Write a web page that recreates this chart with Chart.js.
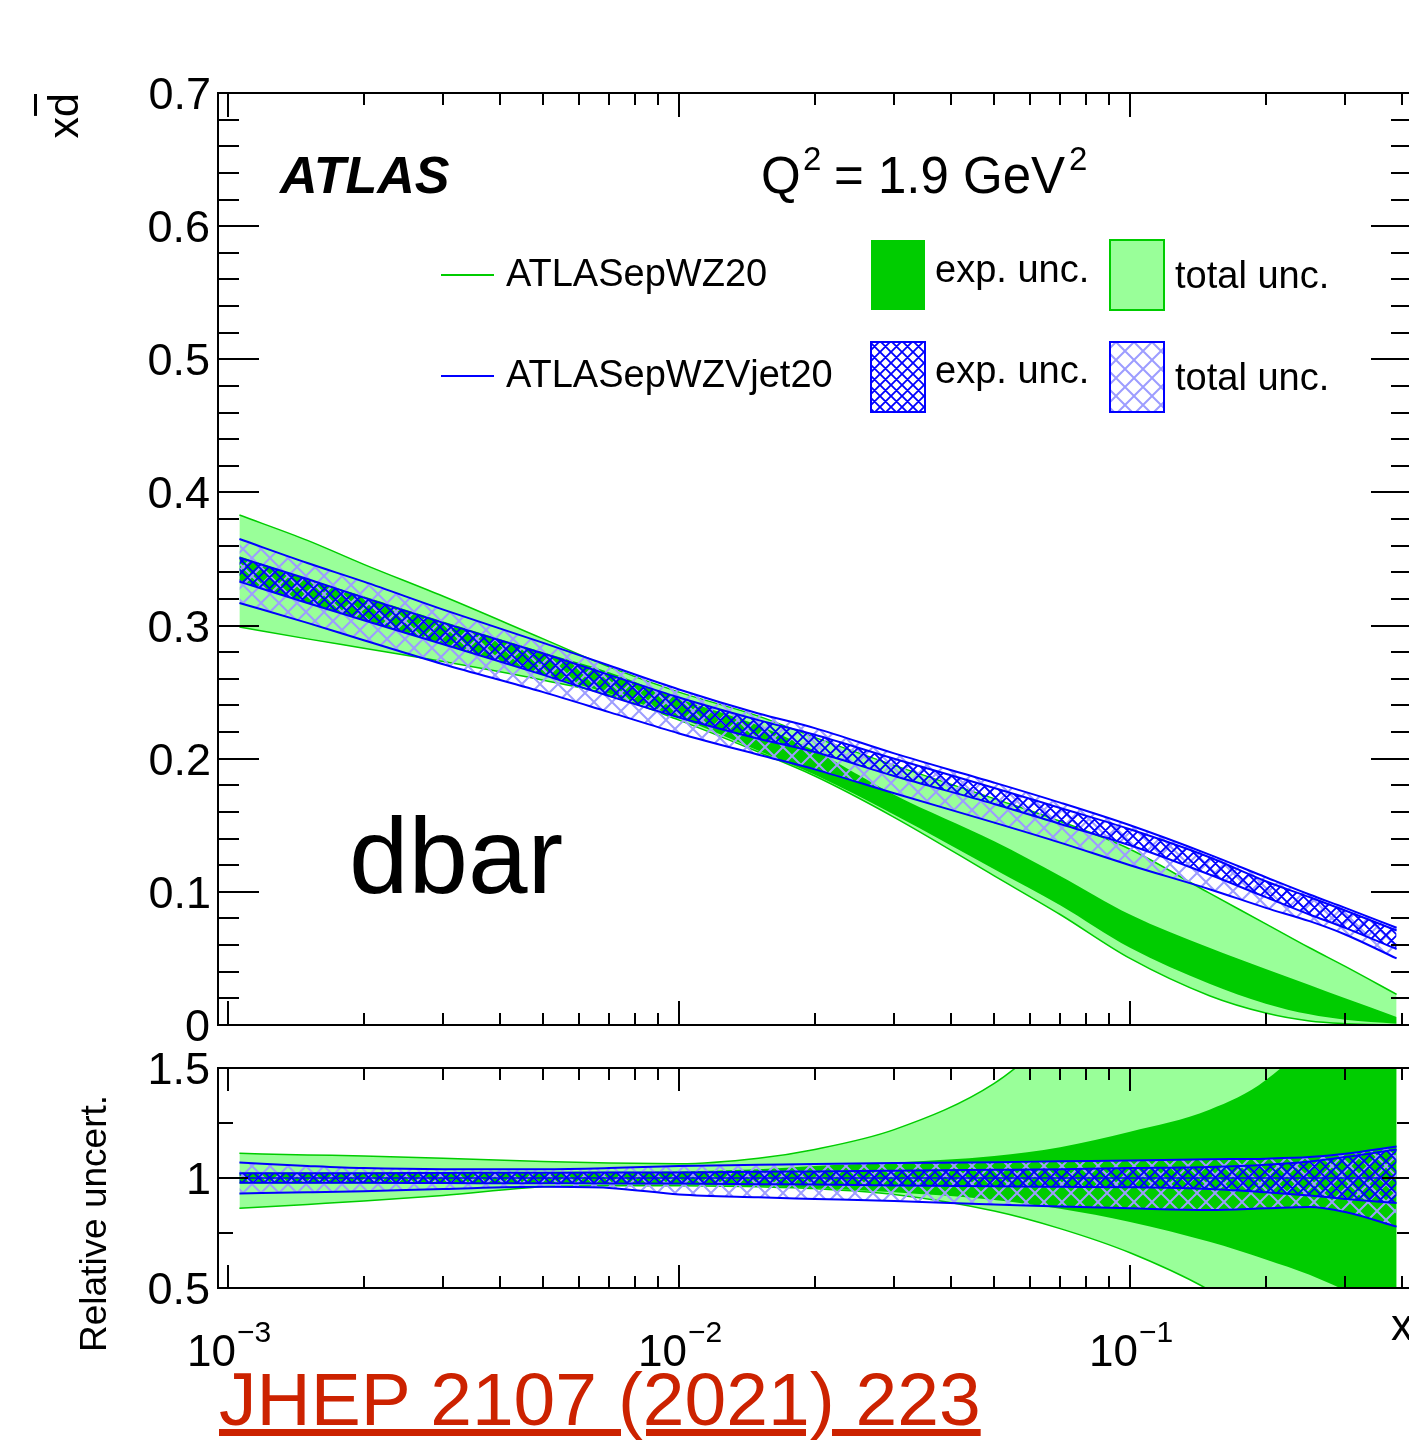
<!DOCTYPE html>
<html>
<head>
<meta charset="utf-8">
<title>dbar PDF at Q2 = 1.9 GeV2</title>
<script src="https://cdn.jsdelivr.net/npm/chart.js@4.4.1/dist/chart.umd.min.js"></script>
<style>
  html, body { margin: 0; padding: 0; background: #fff; overflow: hidden; }
  body { width: 1409px; height: 1440px; position: relative; }
  canvas { position: absolute; left: 0; }
  #main { top: 0; }
  #ratio { top: 1040px; }
  .ref {
    position: absolute; left: 219px; top: 1362px;
    font: 75px "Liberation Sans", Arial, sans-serif; line-height: 74px;
    color: #cc2200; text-decoration: underline; white-space: nowrap;
  }
</style>
</head>
<body>
<canvas id="main" width="1420" height="1060"></canvas>
<canvas id="ratio" width="1420" height="360"></canvas>
<a class="ref" href="#">JHEP 2107 (2021) 223</a>
<script>
// x values where the bands are sampled
const xGrid = [0.00106, 0.0015, 0.002, 0.003, 0.005, 0.007, 0.01, 0.015, 0.02, 0.03, 0.05, 0.07, 0.1, 0.15, 0.2, 0.25, 0.3, 0.39];

// ATLASepWZ20 : x*dbar
const wzTotHi = [0.383, 0.364, 0.346, 0.322, 0.290, 0.269, 0.250, 0.232, 0.216, 0.195, 0.170, 0.153, 0.132, 0.099, 0.076, 0.058, 0.044, 0.023];
const wzTotLo = [0.299, 0.290, 0.283, 0.273, 0.259, 0.248, 0.229, 0.205, 0.187, 0.156, 0.112, 0.083, 0.050, 0.022, 0.009, 0.003, 0.001, 0.000];
const wzExpHi = [0.352, 0.335, 0.322, 0.303, 0.280, 0.265, 0.245, 0.225, 0.206, 0.173, 0.138, 0.112, 0.083, 0.058, 0.042, 0.030, 0.020, 0.006];
const wzExpLo = [0.334, 0.317, 0.304, 0.286, 0.263, 0.249, 0.231, 0.206, 0.188, 0.158, 0.117, 0.090, 0.058, 0.031, 0.016, 0.008, 0.004, 0.001];

// ATLASepWZVjet20 : x*dbar
const vjTotHi = [0.365, 0.347, 0.333, 0.312, 0.287, 0.270, 0.252, 0.234, 0.223, 0.204, 0.182, 0.167, 0.150, 0.128, 0.111, 0.098, 0.088, 0.073];
const vjExpHi = [0.351, 0.335, 0.321, 0.302, 0.279, 0.263, 0.246, 0.229, 0.218, 0.200, 0.178, 0.163, 0.147, 0.126, 0.108, 0.096, 0.086, 0.071];
const vjExpLo = [0.333, 0.317, 0.304, 0.286, 0.263, 0.247, 0.231, 0.215, 0.205, 0.187, 0.166, 0.151, 0.135, 0.113, 0.096, 0.083, 0.073, 0.057];
const vjTotLo = [0.317, 0.302, 0.289, 0.271, 0.250, 0.235, 0.219, 0.203, 0.192, 0.174, 0.152, 0.137, 0.120, 0.102, 0.088, 0.078, 0.068, 0.050];

// relative uncertainties (lower panel)
const wzTotHiRel = [1.112, 1.105, 1.100, 1.090, 1.075, 1.068, 1.065, 1.090, 1.130, 1.220, 1.430, 1.680, 2.000, 2.400, 2.800, 3.200, 3.500, 4.000];
const wzTotLoRel = [0.862, 0.880, 0.895, 0.920, 0.960, 0.965, 0.965, 0.960, 0.952, 0.925, 0.850, 0.770, 0.660, 0.490, 0.320, 0.180, 0.080, 0.000];
const wzExpHiRel = [1.025, 1.025, 1.025, 1.025, 1.027, 1.028, 1.030, 1.040, 1.055, 1.070, 1.100, 1.140, 1.210, 1.310, 1.445, 1.650, 2.000, 2.500];
const wzExpLoRel = [0.975, 0.975, 0.975, 0.975, 0.973, 0.972, 0.970, 0.963, 0.955, 0.935, 0.900, 0.860, 0.800, 0.710, 0.630, 0.560, 0.490, 0.400];
const vjTotHiRel = [1.070, 1.055, 1.045, 1.040, 1.040, 1.045, 1.055, 1.060, 1.064, 1.068, 1.072, 1.076, 1.080, 1.085, 1.088, 1.095, 1.110, 1.143];
const vjTotLoRel = [0.930, 0.935, 0.940, 0.950, 0.960, 0.955, 0.925, 0.912, 0.905, 0.895, 0.880, 0.870, 0.862, 0.855, 0.862, 0.868, 0.845, 0.779];
const vjExpHiRel = [1.022, 1.022, 1.022, 1.023, 1.024, 1.025, 1.025, 1.028, 1.030, 1.033, 1.037, 1.040, 1.045, 1.050, 1.060, 1.075, 1.095, 1.130];
const vjExpLoRel = [0.978, 0.978, 0.978, 0.977, 0.976, 0.975, 0.975, 0.972, 0.970, 0.966, 0.962, 0.960, 0.958, 0.950, 0.935, 0.920, 0.905, 0.886];
const vjCentralRel = [1, 1, 1, 1, 1, 1, 1, 1, 1, 1, 1, 1, 1, 1, 1, 1, 1, 1];

// axis labels
const yLabelsMain = ['0', '0.1', '0.2', '0.3', '0.4', '0.5', '0.6', '0.7'];
const yLabelsRatio = ['0.5', '1', '1.5'];
const xDecades = [-3, -2, -1];

const X_MIN = 9.502e-4;
const X_MAX = 0.4219;

const GREEN = '#00cc00';
const LIGHT_GREEN = '#99ff99';
const BLUE = '#0000ff';
const LIGHT_BLUE = '#9d9dff';
const FONT = '"Liberation Sans", Arial, sans-serif';

function crossHatch(color, step, width) {
  const tile = document.createElement('canvas');
  tile.width = tile.height = step;
  const c = tile.getContext('2d');
  c.strokeStyle = color;
  c.lineWidth = width;
  c.beginPath();
  for (const k of [-step, 0, step]) {
    c.moveTo(k, 0); c.lineTo(k + step, step);
    c.moveTo(k, step); c.lineTo(k + step, 0);
  }
  c.stroke();
  return c.createPattern(tile, 'repeat');
}

const hatchDense = crossHatch(BLUE, 11, 1.8);
const hatchLight = crossHatch(LIGHT_BLUE, 18, 2);

// a band = lower edge + upper edge filled down to it
function band(lo, hi, fill, edge, edgeWidth, order) {
  const pts = arr => xGrid.map((x, i) => ({ x, y: arr[i] }));
  const line = {
    pointRadius: 0,
    cubicInterpolationMode: 'monotone',
    clip: 0,
    borderColor: edge || 'rgba(0,0,0,0)',
    borderWidth: edge ? edgeWidth : 1,
  };
  return [
    { ...line, data: pts(lo), fill: false, order },
    { ...line, data: pts(hi), fill: '-1', backgroundColor: fill, order: order + 0.5 },
  ];
}

function centralLine(arr) {
  return {
    data: xGrid.map((x, i) => ({ x, y: arr[i] })),
    pointRadius: 0, cubicInterpolationMode: 'monotone', clip: 0,
    borderColor: BLUE, borderWidth: 1.5, fill: false, order: 1,
  };
}

// label right-aligned on its ink, like ROOT does
function inkRight(ctx, text, right, baseline) {
  const m = ctx.measureText(text);
  ctx.fillText(text, right - m.actualBoundingBoxRight, baseline);
}

// ROOT-like frame with inward ticks on all four sides
const axesPlugin = {
  id: 'axes',
  afterDraw(chart, args, o) {
    const { ctx, chartArea: a, scales: { x, y } } = chart;
    ctx.save();
    ctx.strokeStyle = '#000';
    ctx.lineWidth = 2;
    ctx.beginPath();
    for (let d = -4; d <= 0; d++) {
      for (let k = 1; k <= 9; k++) {
        const v = k * Math.pow(10, d);
        if (v < x.min || v > x.max) continue;
        const px = Math.round(x.getPixelForValue(v));
        const len = k === 1 ? o.xMajor : o.xMinor;
        ctx.moveTo(px, a.bottom); ctx.lineTo(px, a.bottom - len);
        ctx.moveTo(px, a.top); ctx.lineTo(px, a.top + len);
      }
    }
    const majors = o.yLabels.map(Number);
    const n = Math.round((y.max - y.min) / o.yMinorStep);
    for (let i = 0; i <= n; i++) {
      const v = y.min + i * o.yMinorStep;
      const py = Math.round(y.getPixelForValue(v));
      const len = majors.some(m => Math.abs(m - v) < 1e-9) ? o.yMajor : o.yMinor;
      ctx.moveTo(a.left, py); ctx.lineTo(a.left + len, py);
      ctx.moveTo(a.right, py); ctx.lineTo(a.right - len, py);
    }
    ctx.stroke();
    ctx.strokeRect(a.left, a.top, a.right - a.left, a.bottom - a.top);

    ctx.fillStyle = '#000';
    ctx.font = '45px ' + FONT;
    ctx.textAlign = 'left';
    ctx.textBaseline = 'alphabetic';
    for (const lab of o.yLabels) {
      inkRight(ctx, lab, 209, y.getPixelForValue(Number(lab)) + 16);
    }
    if (o.xLabels) {
      for (const d of xDecades) {
        const px = x.getPixelForValue(Math.pow(10, d));
        ctx.font = '44px ' + FONT;
        const w = ctx.measureText('10').width;
        ctx.fillText('10', px - 41, a.bottom + 78);
        ctx.font = '30px ' + FONT;
        ctx.fillText('\u2212' + Math.abs(d), px - 41 + w + 1, a.bottom + 54);
      }
      ctx.font = '44px ' + FONT;
      ctx.fillText('x', 1391, a.bottom + 52);
    }
    ctx.restore();
  }
};

const mainDecor = {
  id: 'mainDecor',
  afterDraw(chart) {
    const { ctx } = chart;
    ctx.save();
    ctx.fillStyle = '#000';
    ctx.textAlign = 'left';
    ctx.textBaseline = 'alphabetic';

    ctx.font = 'italic bold 52px ' + FONT;
    ctx.fillText('ATLAS', 280, 193);

    ctx.font = '51px ' + FONT;
    ctx.fillText('Q', 761, 193);
    const eq = '= 1.9 GeV';
    ctx.fillText(eq, 834, 193);
    const eqEnd = 834 + ctx.measureText(eq).width;
    ctx.font = '33px ' + FONT;
    ctx.fillText('2', 803, 170);
    ctx.fillText('2', eqEnd + 4, 170);

    // legend
    ctx.lineWidth = 2;
    ctx.strokeStyle = GREEN;
    ctx.beginPath(); ctx.moveTo(441, 275); ctx.lineTo(494, 275); ctx.stroke();
    ctx.strokeStyle = BLUE;
    ctx.beginPath(); ctx.moveTo(441, 376); ctx.lineTo(494, 376); ctx.stroke();

    ctx.fillStyle = GREEN;
    ctx.fillRect(871, 240, 54, 70);
    ctx.fillStyle = LIGHT_GREEN;
    ctx.fillRect(1110, 240, 54, 70);
    ctx.strokeStyle = GREEN;
    ctx.strokeRect(1110, 240, 54, 70);
    ctx.fillStyle = hatchDense;
    ctx.fillRect(871, 342, 54, 70);
    ctx.fillStyle = hatchLight;
    ctx.fillRect(1110, 342, 54, 70);
    ctx.strokeStyle = BLUE;
    ctx.strokeRect(871, 342, 54, 70);
    ctx.strokeRect(1110, 342, 54, 70);

    ctx.fillStyle = '#000';
    ctx.font = '38px ' + FONT;
    ctx.fillText('ATLASepWZ20', 506, 286);
    ctx.fillText('ATLASepWZVjet20', 506, 387);
    ctx.fillText('exp. unc.', 935, 282);
    ctx.fillText('total unc.', 1175, 288);
    ctx.fillText('exp. unc.', 935, 383);
    ctx.fillText('total unc.', 1175, 390);

    ctx.font = '107px ' + FONT;
    ctx.fillText('dbar', 349, 893);

    // y title: x times d-bar, rotated
    ctx.translate(78, 93);
    ctx.rotate(-Math.PI / 2);
    ctx.font = '43px ' + FONT;
    ctx.textAlign = 'right';
    ctx.fillText('xd', 0, 0);
    const dw = ctx.measureText('d').width;
    ctx.fillRect(-dw + 1, -44, dw - 2, 3);
    ctx.restore();
  }
};

const ratioDecor = {
  id: 'ratioDecor',
  afterDraw(chart) {
    const { ctx } = chart;
    ctx.save();
    ctx.fillStyle = '#000';
    ctx.translate(106, 312);
    ctx.rotate(-Math.PI / 2);
    ctx.font = '37px ' + FONT;
    ctx.textAlign = 'left';
    ctx.textBaseline = 'alphabetic';
    ctx.fillText('Relative uncert.', 0, 0);
    ctx.restore();
  }
};

function baseOptions(yMin, yMax, padding, axes) {
  return {
    responsive: false,
    animation: false,
    events: [],
    layout: { padding },
    scales: {
      x: { type: 'logarithmic', min: X_MIN, max: X_MAX, display: false },
      y: { type: 'linear', min: yMin, max: yMax, display: false },
    },
    plugins: {
      legend: { display: false },
      tooltip: { enabled: false },
      filler: { drawTime: 'beforeDatasetDraw' },
      axes,
    },
  };
}

new Chart(document.getElementById('main'), {
  type: 'line',
  data: {
    datasets: [
      ...band(wzTotLo, wzTotHi, LIGHT_GREEN, GREEN, 1.5, 8),
      ...band(wzExpLo, wzExpHi, GREEN, null, 0, 6),
      ...band(vjTotLo, vjTotHi, hatchLight, BLUE, 2, 4),
      ...band(vjExpLo, vjExpHi, hatchDense, BLUE, 2, 2),
    ],
  },
  options: baseOptions(0, 0.7, { left: 218, top: 93, right: 8, bottom: 35 }, {
    yLabels: yLabelsMain, yMinorStep: 0.02, yMajor: 41, yMinor: 21,
    xMajor: 24, xMinor: 12, xLabels: false,
  }),
  plugins: [axesPlugin, mainDecor],
});

new Chart(document.getElementById('ratio'), {
  type: 'line',
  data: {
    datasets: [
      ...band(wzTotLoRel, wzTotHiRel, LIGHT_GREEN, GREEN, 1.5, 8),
      ...band(wzExpLoRel, wzExpHiRel, GREEN, null, 0, 6),
      ...band(vjTotLoRel, vjTotHiRel, hatchLight, BLUE, 2, 4),
      ...band(vjExpLoRel, vjExpHiRel, hatchDense, BLUE, 2, 2),
      centralLine(vjCentralRel),
    ],
  },
  options: baseOptions(0.5, 1.5, { left: 218, top: 28, right: 8, bottom: 112 }, {
    yLabels: yLabelsRatio, yMinorStep: 0.25, yMajor: 30, yMinor: 15,
    xMajor: 23, xMinor: 12, xLabels: true,
  }),
  plugins: [axesPlugin, ratioDecor],
});
</script>
</body>
</html>
